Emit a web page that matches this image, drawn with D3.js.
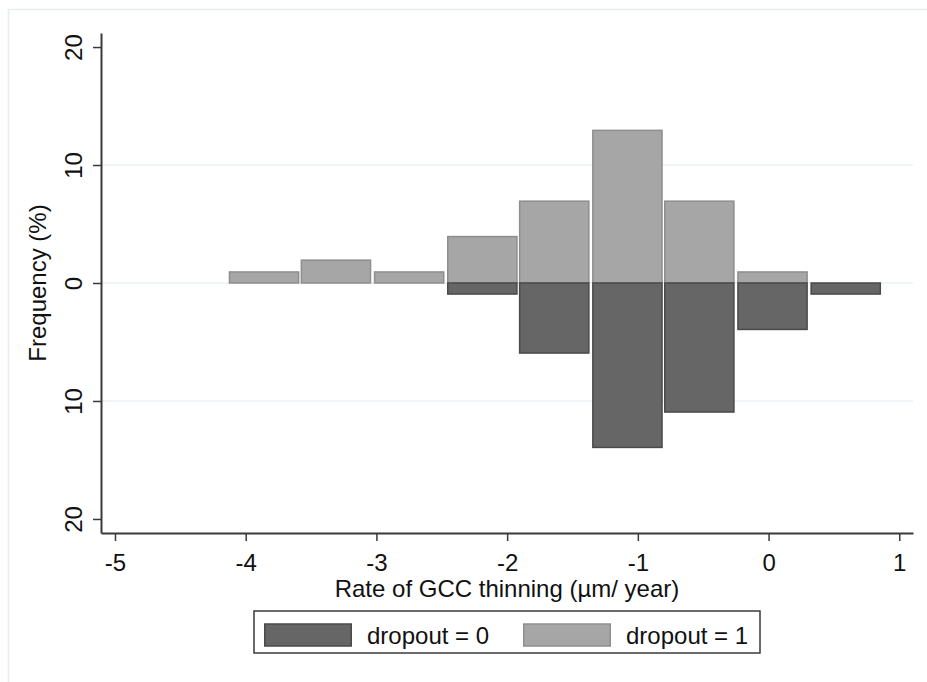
<!DOCTYPE html>
<html>
<head>
<meta charset="utf-8">
<script src="https://cdn.jsdelivr.net/npm/d3@7"></script>
<style>
  body { margin: 0; background: #fff; }
  svg text { font-family: "Liberation Sans", Arial, sans-serif; fill: #111; }
</style>
</head>
<body>
<svg id="chart" width="927" height="682"></svg>
<script>
// histogram bins (lower edges, µm/year) and bin width
const binStart = [-4.13, -3.58, -3.02, -2.46, -1.91, -1.35, -0.80, -0.24, 0.32];
const binWidth = 0.556;
// frequency (%) per bin
const dropout1 = [1, 2, 1, 4, 7, 13, 7, 1, 0];
const dropout0 = [0, 0, 0, 1, 6, 14, 11, 4, 1];
const xTicks = [-5, -4, -3, -2, -1, 0, 1];
const yTicks = [-20, -10, 0, 10, 20];
const gridVals = [-10, 0, 10];
const legendLabels = ['dropout = 0', 'dropout = 1'];

const dark = { fill: '#666666', stroke: '#4a4a4a' };
const light = { fill: '#a6a6a6', stroke: '#8e8e8e' };

const svg = d3.select('#chart');
const fontSize = '24px';

// faint outer frame
svg.append('rect')
  .attr('x', 8.5).attr('y', 9.5)
  .attr('width', 960).attr('height', 720)
  .attr('fill', 'none')
  .attr('stroke', '#e6eef0')
  .attr('stroke-width', 1.5);

const x = d3.scaleLinear().domain([-5.107, 1.105]).range([101, 913]);
const y = d3.scaleLinear().domain([-21.19, 21.19]).range([533, 33]);

// grid lines
svg.append('g')
  .selectAll('line')
  .data(gridVals)
  .join('line')
  .attr('x1', x.range()[0]).attr('x2', x.range()[1])
  .attr('y1', (d) => y(d)).attr('y2', (d) => y(d))
  .attr('stroke', '#eaf2f3')
  .attr('stroke-width', 1.5);

// bars: dropout = 1 above zero, dropout = 0 below
const bins = binStart.map((s, i) => ({ s: s, up: dropout1[i], down: dropout0[i] }));
const sw = 1.5;

svg.append('g')
  .selectAll('rect')
  .data(bins.filter((d) => d.up > 0))
  .join('rect')
  .attr('x', (d) => x(d.s) + sw / 2)
  .attr('width', (d) => x(d.s + binWidth) - x(d.s) - 2 - sw)
  .attr('y', (d) => y(d.up) + sw / 2)
  .attr('height', (d) => y(0) - y(d.up) - sw / 2)
  .attr('fill', light.fill)
  .attr('stroke', light.stroke)
  .attr('stroke-width', sw);

svg.append('g')
  .selectAll('rect')
  .data(bins.filter((d) => d.down > 0))
  .join('rect')
  .attr('x', (d) => x(d.s) + sw / 2)
  .attr('width', (d) => x(d.s + binWidth) - x(d.s) - 2 - sw)
  .attr('y', y(0))
  .attr('height', (d) => y(-d.down) - y(0) - sw / 2)
  .attr('fill', dark.fill)
  .attr('stroke', dark.stroke)
  .attr('stroke-width', sw);

// y axis (labels shown as absolute values, rotated)
const yAxis = svg.append('g')
  .attr('transform', `translate(${x.range()[0]},0)`)
  .call(d3.axisLeft(y).tickValues(yTicks).tickSize(8).tickSizeOuter(0)
    .tickFormat((d) => String(Math.abs(d))));
yAxis.select('.domain').attr('stroke', '#3a3a3a').attr('stroke-width', 2);
yAxis.selectAll('.tick line').attr('stroke', '#3a3a3a').attr('stroke-width', 1.5);
yAxis.selectAll('.tick text')
  .attr('x', null).attr('dy', null)
  .attr('transform', 'translate(-19,0) rotate(-90)')
  .attr('text-anchor', 'middle')
  .style('font-size', fontSize)
  .attr('fill', '#111');

// x axis
const xAxis = svg.append('g')
  .attr('transform', `translate(0,${y.range()[0]})`)
  .call(d3.axisBottom(x).tickValues(xTicks).tickSize(8).tickSizeOuter(0)
    .tickFormat((d) => String(d)));
xAxis.select('.domain').attr('stroke', '#3a3a3a').attr('stroke-width', 2);
xAxis.selectAll('.tick line').attr('stroke', '#3a3a3a').attr('stroke-width', 1.5);
xAxis.selectAll('.tick text')
  .attr('y', 38).attr('dy', null)
  .style('font-size', fontSize)
  .attr('fill', '#111');

// axis titles
svg.append('text')
  .attr('transform', 'translate(46,283) rotate(-90)')
  .attr('text-anchor', 'middle')
  .style('font-size', fontSize)
  .text('Frequency (%)');

svg.append('text')
  .attr('x', (x.range()[0] + x.range()[1]) / 2)
  .attr('y', 597)
  .attr('text-anchor', 'middle')
  .style('font-size', fontSize)
  .text('Rate of GCC thinning (µm/ year)');

// legend
const legend = svg.append('g');
legend.append('rect')
  .attr('x', 254).attr('y', 611)
  .attr('width', 506).attr('height', 42)
  .attr('fill', '#fff')
  .attr('stroke', '#3a3a3a')
  .attr('stroke-width', 1.5);

const legendItems = legend.selectAll('g')
  .data([dark, light])
  .join('g')
  .attr('transform', (d, i) => `translate(${264 + i * 259},0)`);
legendItems.append('rect')
  .attr('x', 0.75).attr('y', 624)
  .attr('width', 86.5).attr('height', 22)
  .attr('fill', (d) => d.fill)
  .attr('stroke', (d) => d.stroke)
  .attr('stroke-width', sw);
legendItems.append('text')
  .attr('x', 103).attr('y', 644)
  .style('font-size', fontSize)
  .text((d, i) => legendLabels[i]);
</script>
</body>
</html>
